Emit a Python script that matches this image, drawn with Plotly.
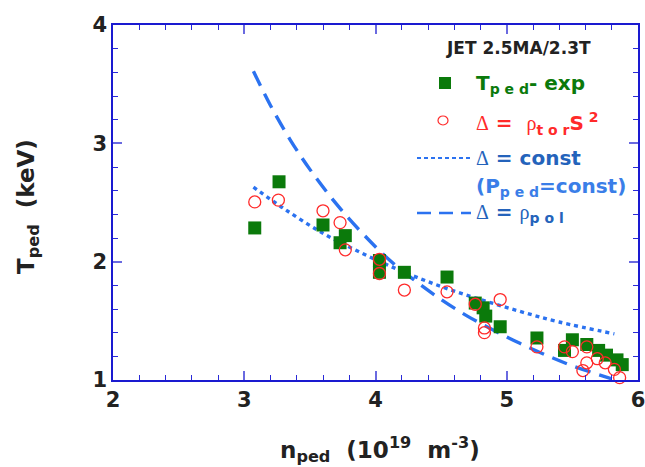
import plotly.graph_objects as go

# ---- data ----
n_exp = [3.08, 3.265, 3.60, 3.73, 3.77, 4.03, 4.03, 4.22, 4.545, 4.76, 4.82, 4.84,
         4.95, 5.23, 5.44, 5.50, 5.61, 5.70, 5.76, 5.84, 5.88]
T_exp = [2.285, 2.675, 2.31, 2.16, 2.22, 2.01, 1.91, 1.91, 1.87, 1.65, 1.61, 1.54,
         1.45, 1.355, 1.25, 1.34, 1.30, 1.25, 1.21, 1.17, 1.13]

n_tor = [3.08, 3.26, 3.60, 3.73, 3.77, 4.03, 4.03, 4.22, 4.545, 4.76, 4.95, 4.83,
         4.83, 5.23, 5.44, 5.50, 5.61, 5.69, 5.75, 5.61, 5.58, 5.82, 5.86]
T_tor = [2.505, 2.52, 2.43, 2.33, 2.10, 2.02, 1.90, 1.76, 1.745, 1.64, 1.68, 1.44,
         1.40, 1.28, 1.28, 1.24, 1.28, 1.18, 1.145, 1.145, 1.08, 1.09, 1.02]

n_const = [3.07, 3.3, 3.6, 3.9, 4.2, 4.5, 4.8, 5.1, 5.4, 5.82]
T_const = [2.63, 2.45, 2.24, 2.07, 1.92, 1.79, 1.68, 1.58, 1.49, 1.39]

n_pol = [3.07, 3.2, 3.35, 3.5, 3.7, 3.9, 4.1, 4.3, 4.5, 4.7, 4.9, 5.1, 5.3, 5.5, 5.8]
T_pol = [3.61, 3.32, 3.03, 2.78, 2.49, 2.24, 2.02, 1.84, 1.68, 1.54, 1.42, 1.31, 1.21, 1.12, 1.01]

x_ticks = [2, 3, 4, 5, 6]
y_ticks = [1, 2, 3, 4]

LINE_BLUE = "#2b72f0"
GREEN = "#0b7a0b"
RED = "#ff2a2a"
FONT = "DejaVu Sans"

fig = go.Figure()
fig.add_trace(go.Scatter(x=n_const, y=T_const, mode="lines",
                         line=dict(color=LINE_BLUE, width=3.4, dash="4px,4px"),
                         line_shape="spline", showlegend=False))
fig.add_trace(go.Scatter(x=n_pol, y=T_pol, mode="lines",
                         line=dict(color=LINE_BLUE, width=3.4, dash="16px,9px"),
                         line_shape="spline", showlegend=False))
fig.add_trace(go.Scatter(x=n_exp, y=T_exp, mode="markers",
                         marker=dict(symbol="square", size=13, color=GREEN,
                                     line=dict(width=0)),
                         cliponaxis=False, showlegend=False))
fig.add_trace(go.Scatter(x=n_tor, y=T_tor, mode="markers",
                         marker=dict(symbol="circle-open", size=12, color=RED,
                                     line=dict(width=1.3, color=RED)),
                         cliponaxis=False, showlegend=False))

axis_common = dict(
    showline=True, linecolor="#1a1ad0", linewidth=1.5, mirror="ticks",
    ticks="inside", ticklen=9, tickwidth=1.5, tickcolor="#6a6ae0",
    showgrid=False, zeroline=False, automargin=False, ticklabeloverflow="allow",
    tickfont=dict(family=FONT, size=21, color="#222222", weight="bold"),
    minor=dict(dtick=0.2, ticks="inside", ticklen=5, tickwidth=1.2,
               tickcolor="#2a2ad8", showgrid=False),
)
fig.update_xaxes(range=[2, 6], tickvals=x_ticks, **axis_common)
fig.update_yaxes(range=[1, 4], tickvals=y_ticks, **axis_common)


def px2x(px):
    return 2 + (px - 113) / 131.25


def py2y(py):
    return 1 + (380 - py) / 118.33


DELTA = '<span style="font-family:Liberation Serif;font-weight:normal">Δ</span>'
RHO = '<span style="font-family:Liberation Serif;font-weight:normal">ρ</span>'

ann = []


def text(px, py, s, color, size=20, anchor="left"):
    ann.append(dict(x=px2x(px), y=py2y(py), xref="x", yref="y", text=s,
                    showarrow=False, xanchor=anchor, yanchor="middle",
                    font=dict(family=FONT, size=size, color=color, weight="bold")))


text(518, 48, "JET 2.5MA/2.3T", "#222222", size=17, anchor="center")
text(474, 84, 'T<sub>p e d</sub>- exp', GREEN, size=20)
text(474, 124, DELTA + ' =  ' + RHO + '<sub>t o r</sub>S<sup> 2</sup>', RED, size=20)
text(474, 158, DELTA + " = const", "#2463bb", size=20)
text(474, 187, '(P<sub>p e d</sub>=const)', "#3a7ee8", size=20)
text(474, 213, DELTA + ' = ' + RHO + '<sub>p o l</sub>', "#2463bb", size=20)

# axis titles
ann.append(dict(x=(380 - 113) / 525, y=-(449 - 380) / 355, xref="paper", yref="paper",
                text='n<sub>ped</sub>  (10<sup>19</sup>  m<sup>-3</sup>)',
                showarrow=False, xanchor="center", yanchor="middle",
                font=dict(family=FONT, size=23, color="#222222", weight="bold")))
ann.append(dict(x=-(113 - 28) / 525, y=(380 - 207) / 355, xref="paper", yref="paper",
                text='T<sub>ped</sub>  (keV)',
                showarrow=False, xanchor="center", yanchor="middle", textangle=-90,
                font=dict(family=FONT, size=23, color="#222222", weight="bold")))

shapes = [
    dict(type="rect", xref="x", yref="y", x0=px2x(439), x1=px2x(451),
         y0=py2y(89), y1=py2y(77), fillcolor=GREEN, line=dict(width=0)),
    dict(type="circle", xref="x", yref="y", x0=px2x(438), x1=px2x(448),
         y0=py2y(125), y1=py2y(116), line=dict(color=RED, width=1.2)),
    dict(type="line", xref="x", yref="y", x0=px2x(417), x1=px2x(471),
         y0=py2y(158), y1=py2y(158), line=dict(color=LINE_BLUE, width=2, dash="4px,3px")),
    dict(type="line", xref="x", yref="y", x0=px2x(417), x1=px2x(471),
         y0=py2y(213), y1=py2y(213), line=dict(color=LINE_BLUE, width=2.5, dash="14px,8px")),
]

fig.update_layout(
    width=645, height=467,
    margin=dict(l=113, r=7, t=25, b=87),
    paper_bgcolor="white", plot_bgcolor="white",
    annotations=ann, shapes=shapes, showlegend=False,
    font=dict(family=FONT),
)

fig.write_html("out.html", config={"displayModeBar": False},
               post_script="document.body.style.margin='0';")
